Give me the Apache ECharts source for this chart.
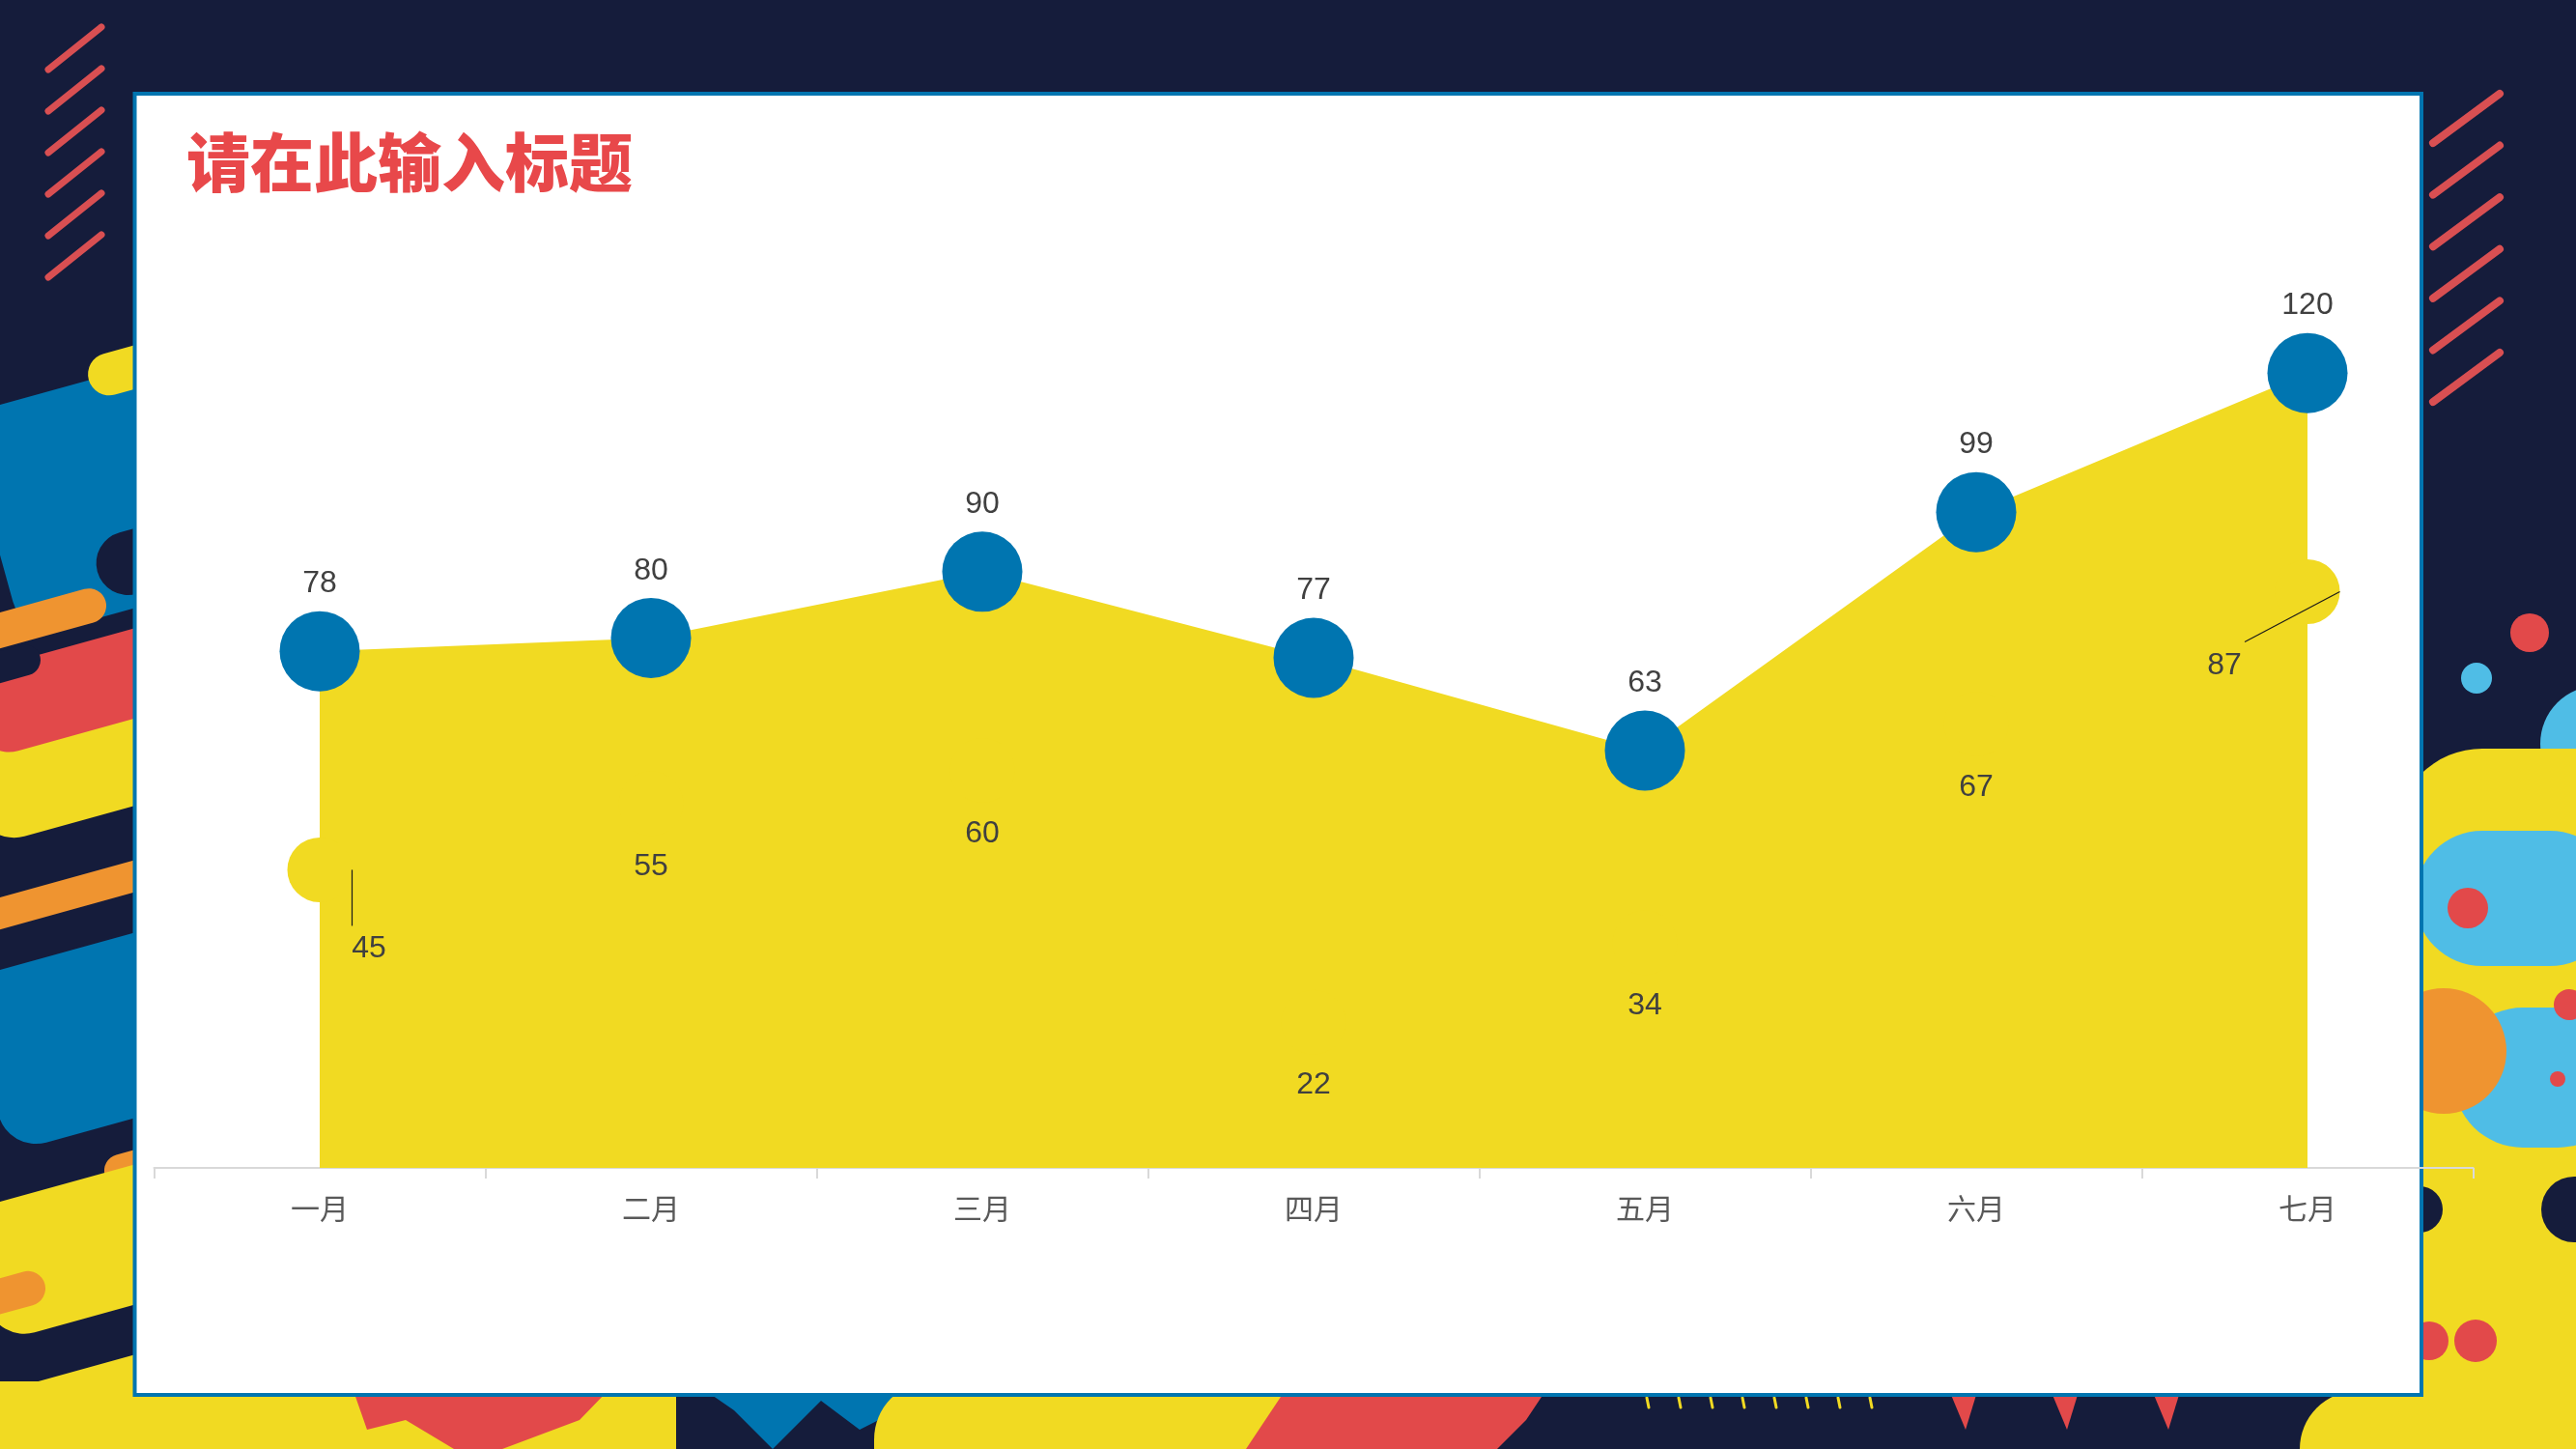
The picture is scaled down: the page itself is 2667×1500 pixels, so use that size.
<!DOCTYPE html>
<html>
<head>
<meta charset="utf-8">
<title>请在此输入标题</title>
<script src="https://cdn.jsdelivr.net/npm/echarts@6/dist/echarts.min.js"></script>
<style>
    html, body {margin: 0; padding: 0; background: #151c3b;}
    #chart {width: 2667px; height: 1500px;}
</style>
</head>
<body>
<div id="chart"></div>
<script>
// 数据
let months = ['一月', '二月', '三月', '四月', '五月', '六月', '七月'];
let series1 = [78, 80, 90, 77, 63, 99, 120];
let series2 = [45, 55, 60, 22, 34, 67, 87];
// series2 里带引导线的两个标签
let calloutIndex = [0, 6];

let NAVY = '#151c3b', BLUE = '#0075b0', YELLOW = '#f1da22', RED = '#e2494a',
    ORANGE = '#ef9430', SKY = '#4fbde6', STRIPE = '#d94f52';
let FONT = '"Liberation Sans", "Noto Sans CJK SC", sans-serif';
let SIZE2 = 67;

// 背景装饰
function band(x, y, len, h, color, r) {
    return {
        type: 'rect', x: x, y: y, rotation: 0.27, z: -10, silent: true,
        shape: {x: 0, y: 0, width: len, height: h, r: r == null ? h / 2 : r},
        style: {fill: color}
    };
}
function dot(cx, cy, r, color) {
    return {type: 'circle', z: -10, silent: true, shape: {cx: cx, cy: cy, r: r}, style: {fill: color}};
}
function box(x, y, w, h, r, color) {
    return {type: 'rect', z: -10, silent: true, shape: {x: x, y: y, width: w, height: h, r: r}, style: {fill: color}};
}
function poly(points, color) {
    return {type: 'polygon', z: -10, silent: true, shape: {points: points}, style: {fill: color}};
}
function stroke(x1, y1, x2, y2, w, color) {
    return {
        type: 'line', z: -10, silent: true, shape: {x1: x1, y1: y1, x2: x2, y2: y2},
        style: {stroke: color, lineWidth: w, lineCap: 'round'}
    };
}

let deco = [];
for (let i = 0; i < 6; i++) {
    deco.push(stroke(50, 72 + 43 * i, 105, 28 + 43 * i, 7, STRIPE));
    deco.push(stroke(2519, 148 + 53.6 * i, 2588, 97 + 53.6 * i, 8, STRIPE));
}
// 左侧
deco.push(
    band(-40, 430, 300, 240, BLUE, 40),
    band(92, 560, 140, 66, NAVY),
    band(86, 372, 140, 44, YELLOW),
    band(-40, 780, 300, 100, YELLOW, 40),
    band(-40, 700, 300, 90, RED, 36),
    band(-40, 645, 150, 36, ORANGE),
    band(-40, 685, 80, 32, NAVY),
    band(-40, 940, 300, 32, ORANGE),
    band(-40, 1015, 300, 185, BLUE, 40),
    band(104, 1200, 120, 34, ORANGE),
    band(-40, 1255, 300, 140, YELLOW, 40),
    band(-50, 1337, 95, 36, ORANGE),
    band(-40, 1452, 300, 120, YELLOW, 20)
);
// 底部
deco.push(
    box(0, 1430, 700, 80, 0, YELLOW),
    poly([[366, 1440], [629, 1440], [600, 1470], [520, 1500], [470, 1500], [420, 1470], [380, 1480]], RED),
    poly([[700, 1440], [1000, 1440], [930, 1470], [900, 1500], [700, 1500]], NAVY),
    poly([[731, 1440], [969, 1440], [890, 1480], [850, 1450], [800, 1500], [760, 1460]], BLUE),
    box(905, 1430, 430, 80, [60, 0, 0, 0], YELLOW),
    poly([[1330, 1440], [1600, 1440], [1580, 1470], [1550, 1500], [1290, 1500], [1310, 1470]], RED),
    box(2381, 1440, 300, 70, [60, 0, 0, 0], YELLOW)
);
for (let i = 0; i < 8; i++) {
    deco.push(stroke(1705 + 33 * i, 1447, 1707 + 33 * i, 1457, 3, YELLOW));
}
for (let i = 0; i < 3; i++) {
    let x0 = 2020 + 105 * i;
    deco.push(poly([[x0, 1444], [x0 + 26, 1444], [x0 + 15, 1480]], RED));
}
// 右侧
deco.push(
    dot(2619, 655, 20, RED),
    dot(2564, 702, 16, SKY),
    dot(2690, 770, 60, SKY),
    box(2480, 775, 230, 725, [90, 0, 0, 0], YELLOW),
    box(2500, 860, 210, 140, 70, SKY),
    dot(2555, 940, 21, RED),
    box(2540, 1043, 180, 145, 72, SKY),
    dot(2530, 1088, 65, ORANGE),
    dot(2660, 1040, 16, RED),
    dot(2648, 1117, 8, RED),
    dot(2505, 1252, 24, NAVY),
    dot(2665, 1252, 34, NAVY),
    dot(2515, 1388, 20, RED),
    dot(2563, 1388, 22, RED)
);
// 白色面板
deco.push({
    type: 'rect', z: -5, silent: true,
    shape: {x: 139.5, y: 97, width: 2367.5, height: 1347},
    style: {fill: '#ffffff', stroke: BLUE, lineWidth: 4}
});

// 两个引导线标签: 标签偏移 [dx, dy], 引导线终点相对圆点中心的偏移
let calloutShift = {0: [51, 16], 6: [-86, 11]};
let calloutEnd = {0: [SIZE2 / 2, 58], 6: [-65, 52]};

let option = {
    backgroundColor: NAVY,
    animation: false,
    graphic: {elements: deco},
    title: {
        text: '请在此输入标题', left: 193, top: 135, padding: 0,
        textStyle: {color: '#e8484a', fontSize: 66, fontWeight: 900, fontFamily: '"Noto Sans CJK SC", sans-serif'}
    },
    grid: {left: 159.5, right: 106.5, top: 249, bottom: 291},
    xAxis: {
        type: 'category', data: months, boundaryGap: true,
        axisLine: {lineStyle: {color: '#d9d9d9', width: 2}},
        axisTick: {show: true, length: 11, lineStyle: {color: '#d9d9d9', width: 2}},
        axisLabel: {color: '#595959', fontSize: 30, margin: 30, fontFamily: FONT}
    },
    yAxis: {type: 'value', min: 0, max: 140, show: false, splitLine: {show: false}},
    series: [
        {
            type: 'line', data: series1, symbol: 'circle', symbolSize: 83, showAllSymbol: true,
            itemStyle: {color: BLUE},
            lineStyle: {color: YELLOW, width: 0},
            areaStyle: {color: YELLOW, opacity: 1},
            label: {show: true, position: 'top', distance: 12, color: '#404040', fontSize: 32, fontFamily: FONT}
        },
        {
            type: 'line', data: series2, symbol: 'circle', symbolSize: SIZE2, showAllSymbol: true,
            itemStyle: {color: YELLOW},
            lineStyle: {width: 0, opacity: 0},
            label: {show: true, position: 'bottom', distance: 16, color: '#404040', fontSize: 32, fontFamily: FONT},
            labelLayout: function (p) {
                let s = calloutShift[p.dataIndex];
                return s ? {dx: s[0], dy: s[1]} : {};
            }
        }
    ]
};

let chart = echarts.init(document.getElementById('chart'));
chart.setOption(option);

// 引导线: 从圆点右缘出发, 位置由坐标轴换算得到
let leaders = calloutIndex.map(function (i) {
    let pt = chart.convertToPixel({seriesIndex: 1}, [i, series2[i]]);
    let e = calloutEnd[i];
    return {
        type: 'line', z: 5, silent: true,
        shape: {x1: pt[0] + SIZE2 / 2, y1: pt[1], x2: pt[0] + e[0], y2: pt[1] + e[1]},
        style: {stroke: '#1a1a1a', lineWidth: 1.2}
    };
});
chart.setOption({graphic: {elements: deco.concat(leaders)}});
</script>
</body>
</html>
